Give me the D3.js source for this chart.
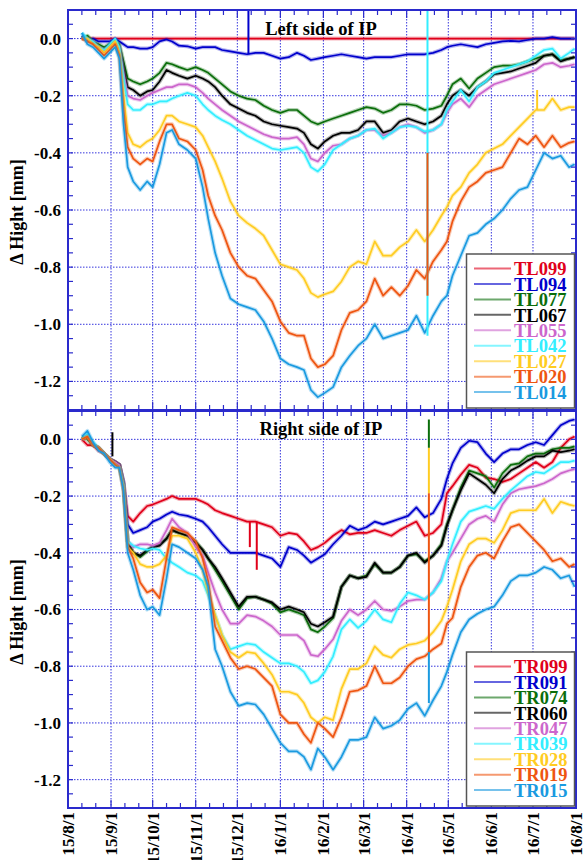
<!DOCTYPE html>
<html><head><meta charset="utf-8">
<script src="https://cdn.jsdelivr.net/npm/d3@7"></script>
<style>
body{margin:0;background:#fff}
text{font-family:"Liberation Serif","Times New Roman",serif;font-weight:bold}
</style>
</head><body>
<svg id="c" width="584" height="860"></svg>
<script>
// ---------------- DATA ----------------
const dates = [
"2015-08-11","2015-08-15","2015-08-19","2015-08-23","2015-08-27","2015-08-31","2015-09-04","2015-09-07","2015-09-10","2015-09-13",
"2015-09-17","2015-09-22","2015-09-27","2015-10-01","2015-10-06","2015-10-11","2015-10-15","2015-10-20","2015-10-26","2015-11-01",
"2015-11-06","2015-11-10","2015-11-15","2015-11-20","2015-11-26","2015-12-02","2015-12-08","2015-12-14","2015-12-20","2015-12-26",
"2016-01-01","2016-01-07","2016-01-13","2016-01-18","2016-01-23","2016-01-28","2016-02-02","2016-02-08","2016-02-14","2016-02-20",
"2016-02-26","2016-03-03","2016-03-09","2016-03-15","2016-03-21","2016-03-27","2016-04-02","2016-04-08","2016-04-14","2016-04-20",
"2016-04-26","2016-04-30","2016-05-04","2016-05-10","2016-05-16","2016-05-22","2016-05-28","2016-06-03","2016-06-09","2016-06-15",
"2016-06-21","2016-06-27","2016-07-03","2016-07-09","2016-07-15","2016-07-21","2016-07-27","2016-07-31"];

const leftNames  = ["TL099","TL094","TL077","TL067","TL055","TL042","TL027","TL020","TL014"];
const rightNames = ["TR099","TR091","TR074","TR060","TR047","TR039","TR028","TR019","TR015"];
const colors = ["#e0001a","#0000cc","#0b6e0b","#000000","#cc66cc","#33eeff","#ffcc22","#ee5511","#1a9ae0"];
const yTickValues = [0.0,-0.2,-0.4,-0.6,-0.8,-1.0,-1.2];

const TL099 = [0,0,0,0,0,0,0,0,0,0, 0,0,0,0,0,0,0,0,0,0, 0,0,0,0,0,0,0,0,0,0, 0,0,0,0,0,0,0,0,0,0, 0,0,0,0,0,0,0,0,0,0, 0,0,0,0,0,0,0,0,0,0, 0,0,0,0,0,0,0,0];
const TL094 = [0.01,-0.01,0.0,-0.01,-0.01,-0.01,0.0,-0.01,-0.02,-0.03,
 -0.03,-0.035,-0.035,-0.03,-0.01,-0.003,-0.01,-0.025,-0.027,-0.035,
 -0.03,-0.03,-0.03,-0.04,-0.045,-0.05,-0.055,-0.05,-0.05,-0.06,
 -0.07,-0.065,-0.05,-0.06,-0.075,-0.07,-0.065,-0.06,-0.055,-0.06,
 -0.065,-0.07,-0.065,-0.065,-0.065,-0.06,-0.055,-0.055,-0.055,-0.05,
 -0.04,-0.03,-0.025,-0.02,-0.025,-0.03,-0.02,-0.015,-0.01,-0.008,
 -0.01,-0.005,0.0,0.0,0.005,0.0,0.0,0.0];
const TL077 = [0.0,0.01,-0.01,-0.02,-0.03,-0.02,-0.01,-0.02,-0.08,-0.14,
 -0.15,-0.16,-0.15,-0.14,-0.12,-0.085,-0.09,-0.10,-0.11,-0.10,
 -0.11,-0.12,-0.14,-0.16,-0.185,-0.20,-0.21,-0.215,-0.235,-0.25,
 -0.26,-0.25,-0.25,-0.27,-0.29,-0.30,-0.29,-0.28,-0.27,-0.26,
 -0.25,-0.24,-0.245,-0.26,-0.25,-0.23,-0.23,-0.235,-0.25,-0.245,
 -0.235,-0.20,-0.16,-0.14,-0.175,-0.14,-0.12,-0.10,-0.095,-0.095,
 -0.09,-0.08,-0.07,-0.06,-0.055,-0.075,-0.07,-0.065];
const TL067 = [0.0,0.0,-0.01,-0.03,-0.04,-0.02,-0.01,-0.03,-0.10,-0.17,
 -0.18,-0.20,-0.185,-0.18,-0.15,-0.11,-0.12,-0.13,-0.14,-0.13,
 -0.14,-0.15,-0.17,-0.20,-0.23,-0.245,-0.26,-0.27,-0.29,-0.30,
 -0.305,-0.31,-0.315,-0.33,-0.37,-0.385,-0.36,-0.34,-0.33,-0.33,
 -0.32,-0.29,-0.29,-0.33,-0.32,-0.29,-0.28,-0.29,-0.30,-0.29,
 -0.27,-0.23,-0.20,-0.18,-0.20,-0.17,-0.15,-0.125,-0.12,-0.115,
 -0.105,-0.095,-0.085,-0.06,-0.055,-0.08,-0.07,-0.065];
const TL055 = [0.0,0.0,-0.01,-0.03,-0.04,-0.03,-0.01,-0.03,-0.12,-0.20,
 -0.21,-0.215,-0.20,-0.19,-0.18,-0.17,-0.17,-0.16,-0.16,-0.17,
 -0.19,-0.21,-0.23,-0.25,-0.27,-0.29,-0.305,-0.32,-0.335,-0.345,
 -0.35,-0.35,-0.345,-0.37,-0.42,-0.43,-0.40,-0.375,-0.37,-0.35,
 -0.34,-0.32,-0.32,-0.34,-0.33,-0.31,-0.30,-0.31,-0.33,-0.32,
 -0.30,-0.26,-0.23,-0.21,-0.24,-0.20,-0.18,-0.16,-0.15,-0.14,
 -0.13,-0.12,-0.11,-0.09,-0.085,-0.10,-0.095,-0.09];
const TL042 = [0.02,0.0,-0.01,-0.03,-0.04,-0.02,0.0,-0.03,-0.14,-0.23,
 -0.25,-0.25,-0.23,-0.23,-0.22,-0.22,-0.21,-0.20,-0.19,-0.20,
 -0.23,-0.25,-0.27,-0.285,-0.30,-0.32,-0.34,-0.355,-0.37,-0.385,
 -0.39,-0.385,-0.38,-0.40,-0.45,-0.465,-0.44,-0.39,-0.37,-0.35,
 -0.34,-0.32,-0.315,-0.35,-0.33,-0.31,-0.305,-0.31,-0.325,-0.32,
 -0.30,-0.25,-0.22,-0.18,-0.22,-0.17,-0.15,-0.12,-0.11,-0.10,
 -0.09,-0.08,-0.06,-0.04,-0.035,-0.07,-0.05,-0.035];
const TL027 = [0.0,0.0,-0.02,-0.03,-0.05,-0.03,-0.01,-0.05,-0.20,-0.33,
 -0.37,-0.38,-0.36,-0.35,-0.32,-0.27,-0.27,-0.29,-0.30,-0.31,
 -0.34,-0.38,-0.43,-0.49,-0.57,-0.62,-0.645,-0.665,-0.69,-0.74,
 -0.79,-0.80,-0.81,-0.84,-0.89,-0.905,-0.895,-0.885,-0.85,-0.80,
 -0.78,-0.79,-0.71,-0.76,-0.76,-0.73,-0.71,-0.67,-0.71,-0.67,
 -0.62,-0.59,-0.55,-0.52,-0.47,-0.44,-0.40,-0.385,-0.37,-0.34,
 -0.31,-0.28,-0.25,-0.25,-0.21,-0.25,-0.24,-0.24];
const TL020 = [0.0,-0.01,-0.02,-0.04,-0.06,-0.04,-0.02,-0.06,-0.25,-0.38,
 -0.42,-0.44,-0.42,-0.43,-0.36,-0.30,-0.30,-0.35,-0.36,-0.39,
 -0.46,-0.55,-0.62,-0.67,-0.75,-0.80,-0.83,-0.84,-0.88,-0.92,
 -0.99,-1.03,-1.04,-1.04,-1.12,-1.15,-1.14,-1.11,-1.02,-0.96,
 -0.95,-0.92,-0.84,-0.90,-0.87,-0.90,-0.865,-0.81,-0.84,-0.78,
 -0.74,-0.71,-0.64,-0.57,-0.52,-0.50,-0.47,-0.46,-0.45,-0.40,
 -0.35,-0.37,-0.34,-0.38,-0.34,-0.38,-0.365,-0.36];
const TL014 = [0.02,-0.02,-0.03,-0.05,-0.07,-0.05,-0.03,-0.07,-0.30,-0.45,
 -0.50,-0.53,-0.50,-0.52,-0.44,-0.33,-0.32,-0.37,-0.39,-0.42,
 -0.52,-0.63,-0.75,-0.83,-0.91,-0.93,-0.94,-0.95,-0.99,-1.05,
 -1.12,-1.14,-1.15,-1.16,-1.23,-1.255,-1.24,-1.22,-1.15,-1.11,
 -1.075,-1.05,-1.0,-1.05,-1.04,-1.03,-1.02,-0.97,-1.03,-0.97,
 -0.92,-0.90,-0.83,-0.76,-0.69,-0.68,-0.65,-0.63,-0.60,-0.56,
 -0.53,-0.52,-0.46,-0.40,-0.42,-0.41,-0.45,-0.44];

const TR099 = [0.0,-0.02,-0.02,-0.04,-0.05,-0.07,-0.08,-0.09,-0.15,-0.27,
 -0.29,-0.26,-0.235,-0.23,-0.22,-0.21,-0.20,-0.21,-0.21,-0.21,
 -0.22,-0.23,-0.25,-0.26,-0.27,-0.28,-0.29,-0.29,-0.30,-0.31,
 -0.34,-0.33,-0.335,-0.36,-0.39,-0.38,-0.365,-0.34,-0.32,-0.335,
 -0.33,-0.33,-0.32,-0.33,-0.34,-0.32,-0.305,-0.29,-0.34,-0.33,
 -0.30,-0.19,-0.165,-0.125,-0.09,-0.10,-0.135,-0.14,-0.15,-0.14,
 -0.12,-0.10,-0.08,-0.10,-0.08,-0.03,0.0,0.01];
const TR091 = [0.0,0.01,-0.02,-0.03,-0.05,-0.07,-0.08,-0.09,-0.15,-0.30,
 -0.33,-0.32,-0.31,-0.29,-0.28,-0.265,-0.255,-0.265,-0.27,-0.28,
 -0.29,-0.31,-0.34,-0.37,-0.40,-0.40,-0.40,-0.40,-0.41,-0.42,
 -0.45,-0.38,-0.39,-0.41,-0.435,-0.42,-0.405,-0.37,-0.34,-0.305,
 -0.32,-0.31,-0.29,-0.30,-0.29,-0.28,-0.27,-0.24,-0.275,-0.26,
 -0.21,-0.14,-0.085,-0.03,-0.005,-0.01,-0.05,-0.08,-0.05,-0.035,
 -0.035,-0.02,-0.01,-0.02,0.015,0.05,0.065,0.07];
const TR074 = [0.01,0.0,-0.02,-0.03,-0.05,-0.07,-0.08,-0.09,-0.16,-0.36,
 -0.40,-0.415,-0.395,-0.38,-0.37,-0.35,-0.32,-0.33,-0.34,-0.36,
 -0.39,-0.42,-0.46,-0.50,-0.55,-0.60,-0.56,-0.555,-0.565,-0.58,
 -0.61,-0.60,-0.61,-0.62,-0.67,-0.68,-0.66,-0.63,-0.52,-0.48,
 -0.49,-0.48,-0.44,-0.47,-0.47,-0.45,-0.41,-0.405,-0.43,-0.41,
 -0.37,-0.30,-0.25,-0.17,-0.11,-0.12,-0.13,-0.17,-0.12,-0.09,
 -0.085,-0.06,-0.05,-0.05,-0.035,-0.03,-0.03,-0.025];
const TR060 = [0.0,0.01,-0.02,-0.03,-0.05,-0.07,-0.08,-0.09,-0.16,-0.36,
 -0.40,-0.41,-0.39,-0.38,-0.375,-0.35,-0.32,-0.33,-0.34,-0.365,
 -0.39,-0.42,-0.45,-0.49,-0.54,-0.59,-0.555,-0.555,-0.565,-0.575,
 -0.60,-0.59,-0.60,-0.61,-0.65,-0.66,-0.645,-0.625,-0.52,-0.48,
 -0.49,-0.485,-0.435,-0.47,-0.47,-0.45,-0.41,-0.40,-0.435,-0.41,
 -0.375,-0.305,-0.25,-0.18,-0.12,-0.14,-0.16,-0.19,-0.14,-0.11,
 -0.095,-0.075,-0.06,-0.06,-0.04,-0.045,-0.04,-0.035];
const TR047 = [0.0,0.01,-0.02,-0.03,-0.05,-0.07,-0.08,-0.09,-0.16,-0.36,
 -0.38,-0.37,-0.37,-0.375,-0.365,-0.32,-0.28,-0.31,-0.33,-0.38,
 -0.41,-0.47,-0.54,-0.60,-0.65,-0.65,-0.62,-0.625,-0.64,-0.66,
 -0.69,-0.69,-0.69,-0.71,-0.76,-0.765,-0.74,-0.705,-0.64,-0.60,
 -0.62,-0.60,-0.57,-0.60,-0.605,-0.59,-0.57,-0.565,-0.565,-0.54,
 -0.49,-0.43,-0.40,-0.35,-0.30,-0.28,-0.27,-0.29,-0.23,-0.19,
 -0.176,-0.17,-0.165,-0.155,-0.14,-0.12,-0.11,-0.105];
const TR039 = [0.0,0.02,-0.01,-0.03,-0.05,-0.07,-0.09,-0.10,-0.16,-0.36,
 -0.375,-0.385,-0.39,-0.385,-0.39,-0.42,-0.435,-0.45,-0.47,-0.48,
 -0.50,-0.55,-0.62,-0.69,-0.74,-0.73,-0.72,-0.725,-0.75,-0.77,
 -0.79,-0.79,-0.80,-0.82,-0.86,-0.85,-0.82,-0.765,-0.67,-0.635,
 -0.665,-0.64,-0.60,-0.635,-0.645,-0.58,-0.54,-0.55,-0.565,-0.54,
 -0.50,-0.43,-0.37,-0.29,-0.255,-0.245,-0.235,-0.245,-0.21,-0.18,
 -0.155,-0.13,-0.115,-0.12,-0.10,-0.08,-0.08,-0.075];
const TR028 = [0.0,0.01,-0.02,-0.03,-0.05,-0.07,-0.09,-0.10,-0.17,-0.38,
 -0.40,-0.44,-0.45,-0.45,-0.44,-0.41,-0.34,-0.34,-0.35,-0.40,
 -0.46,-0.54,-0.62,-0.69,-0.75,-0.77,-0.75,-0.755,-0.79,-0.83,
 -0.89,-0.89,-0.90,-0.93,-0.98,-1.0,-0.98,-0.99,-0.88,-0.81,
 -0.81,-0.79,-0.73,-0.76,-0.77,-0.74,-0.725,-0.72,-0.71,-0.68,
 -0.64,-0.59,-0.53,-0.43,-0.37,-0.35,-0.35,-0.365,-0.32,-0.26,
 -0.25,-0.25,-0.25,-0.21,-0.26,-0.22,-0.23,-0.235];
const TR019 = [0.0,0.01,-0.02,-0.03,-0.05,-0.07,-0.09,-0.10,-0.18,-0.38,
 -0.42,-0.505,-0.54,-0.53,-0.56,-0.42,-0.31,-0.32,-0.33,-0.36,
 -0.42,-0.50,-0.66,-0.71,-0.77,-0.81,-0.80,-0.81,-0.84,-0.87,
 -0.97,-1.0,-1.0,-1.04,-1.07,-1.0,-1.02,-1.05,-0.98,-0.89,
 -0.885,-0.87,-0.80,-0.86,-0.86,-0.84,-0.80,-0.775,-0.765,-0.74,
 -0.72,-0.65,-0.63,-0.52,-0.45,-0.41,-0.40,-0.42,-0.36,-0.31,
 -0.30,-0.33,-0.36,-0.39,-0.43,-0.42,-0.45,-0.44];
const TR015 = [0.01,0.03,-0.01,-0.04,-0.05,-0.08,-0.10,-0.10,-0.18,-0.40,
 -0.46,-0.55,-0.60,-0.59,-0.62,-0.49,-0.37,-0.38,-0.40,-0.42,
 -0.46,-0.52,-0.74,-0.80,-0.89,-0.94,-0.93,-0.935,-0.97,-1.02,
 -1.07,-1.10,-1.10,-1.12,-1.165,-1.09,-1.12,-1.165,-1.12,-1.06,
 -1.06,-1.05,-0.98,-1.02,-1.01,-0.99,-0.95,-0.93,-0.975,-0.92,
 -0.87,-0.82,-0.76,-0.68,-0.635,-0.615,-0.60,-0.59,-0.55,-0.50,
 -0.48,-0.48,-0.47,-0.45,-0.46,-0.49,-0.48,-0.52];

// single-sample spikes: [series index, date, from value, to value]
const leftSpikes = [
 [1,"2015-12-09",-0.055,0.1],
 [5,"2016-04-16",0.1,-1.04],
 [7,"2016-04-16",-0.40,-0.90],
 [6,"2016-07-04",-0.25,-0.18]];
const rightSpikes = [
 [3,"2015-09-02",0.025,-0.06],
 [0,"2015-12-10",-0.29,-0.38],
 [0,"2015-12-15",-0.29,-0.46],
 [2,"2016-04-17",0.07,-0.03],
 [6,"2016-04-17",-0.03,-0.19],
 [7,"2016-04-17",-0.19,-0.75],
 [8,"2016-04-17",-0.75,-0.93]];

const leftSeries  = [TL099,TL094,TL077,TL067,TL055,TL042,TL027,TL020,TL014];
const rightSeries = [TR099,TR091,TR074,TR060,TR047,TR039,TR028,TR019,TR015];

// ---------------- DRAW ----------------
const parse = d3.utcParse("%Y-%m-%d");
const D = dates.map(parse);
const svg = d3.select("#c");
const axisColor = "#2a2acc";
const gridColor = "#3535dd";
const x = d3.scaleUtc().domain([parse("2015-08-01"), parse("2016-08-01")]).range([68, 576]);
const X0 = 68, X1 = 576;

const panels = [
  {names:leftNames, series:leftSeries, spikes:leftSpikes, top:10, bottom:410, title:"Left side of IP", titleY:35, legTop:254, labelY:212},
  {names:rightNames, series:rightSeries, spikes:rightSpikes, top:411, bottom:808, title:"Right side of IP", titleY:435, legTop:652, labelY:612}
];

const months = d3.utcMonth.range(parse("2015-08-01"), parse("2016-08-02"));
const minorDays = d3.utcDay.range(parse("2015-08-01"), parse("2016-08-01")).filter(d => d.getUTCDate()===11 || d.getUTCDate()===21);

panels.forEach((p, pi) => {
  const y = d3.scaleLinear().domain([-1.3, 0.1]).range([p.bottom, p.top]);
  const g = svg.append("g");
  const cid = "clip"+pi;
  svg.append("clipPath").attr("id", cid).append("rect")
    .attr("x", X0).attr("y", p.top).attr("width", X1-X0).attr("height", p.bottom-p.top);

  // grid
  g.selectAll(".vg").data(months.slice(1,-1)).join("line")
    .attr("x1", d=>x(d)).attr("x2", d=>x(d)).attr("y1", p.top).attr("y2", p.bottom)
    .attr("stroke", gridColor).attr("stroke-width", 1).attr("stroke-dasharray","1.5,1.5");
  g.selectAll(".hg").data(yTickValues).join("line")
    .attr("x1", X0).attr("x2", X1).attr("y1", d=>y(d)).attr("y2", d=>y(d))
    .attr("stroke", gridColor).attr("stroke-width", 1).attr("stroke-dasharray","1.5,1.5");

  // series
  const line = d3.line().x((d,i)=>x(D[i])).y(d=>y(d));
  const lg = g.append("g").attr("clip-path", `url(#${cid})`);
  p.series.forEach((s, si) => {
    lg.append("path").attr("d", line(s)).attr("fill","none")
      .attr("stroke", colors[si]).attr("stroke-width", 4).attr("stroke-opacity", 0.3)
      .attr("stroke-linejoin","round");
    lg.append("path").attr("d", line(s)).attr("fill","none")
      .attr("stroke", colors[si]).attr("stroke-width", 1.7)
      .attr("stroke-linejoin","round");
  });
  lg.selectAll(".spk").data(p.spikes).join("line")
    .attr("x1", d=>x(parse(d[1]))).attr("x2", d=>x(parse(d[1])))
    .attr("y1", d=>y(d[2])).attr("y2", d=>y(d[3]))
    .attr("stroke", d=>colors[d[0]]).attr("stroke-width", 2);

  // ticks
  const tk = g.append("g").attr("stroke", axisColor).attr("stroke-width", 1.2);
  tk.selectAll(".xb").data(minorDays).join("line")
    .attr("x1", d=>x(d)).attr("x2", d=>x(d)).attr("y1", p.bottom).attr("y2", p.bottom-5);
  tk.selectAll(".xt").data(minorDays).join("line")
    .attr("x1", d=>x(d)).attr("x2", d=>x(d)).attr("y1", p.top).attr("y2", p.top+5);
  tk.selectAll(".xbm").data(months).join("line")
    .attr("x1", d=>x(d)).attr("x2", d=>x(d)).attr("y1", p.bottom).attr("y2", p.bottom-8);
  tk.selectAll(".xtm").data(months).join("line")
    .attr("x1", d=>x(d)).attr("x2", d=>x(d)).attr("y1", p.top).attr("y2", p.top+8);
  const yMinor = d3.range(-26, 2).map(k => k*0.05);
  tk.selectAll(".yl").data(yMinor).join("line")
    .attr("x1", X0).attr("x2", X0+5).attr("y1", d=>y(d)).attr("y2", d=>y(d));
  tk.selectAll(".yr").data(yMinor).join("line")
    .attr("x1", X1).attr("x2", X1-5).attr("y1", d=>y(d)).attr("y2", d=>y(d));

  // frame
  g.append("rect").attr("x", X0).attr("y", p.top).attr("width", X1-X0).attr("height", p.bottom-p.top)
    .attr("fill","none").attr("stroke", axisColor).attr("stroke-width", 2);

  // y tick labels
  g.selectAll(".ylab").data(yTickValues).join("text")
    .attr("x", 61).attr("y", d=>y(d)).attr("dy","0.35em")
    .attr("text-anchor","end").attr("font-size", 17).attr("fill","#000")
    .text(d => d.toFixed(1));

  // axis title
  g.append("text").attr("transform", `translate(23,${p.labelY}) rotate(-90)`)
    .attr("text-anchor","middle").attr("font-size", 18).attr("fill","#000")
    .text("Δ Hight [mm]");

  // panel title
  g.append("text").attr("x", 321).attr("y", p.titleY).attr("text-anchor","middle")
    .attr("font-size", 18.5).attr("fill","#000").text(p.title);

  // legend
  const lgd = g.append("g");
  lgd.append("rect").attr("x", 466.5).attr("y", p.legTop).attr("width", 108).attr("height", 154)
    .attr("fill","#fff").attr("stroke","#555").attr("stroke-width", 1.5);
  p.names.forEach((n, i) => {
    const cy = p.legTop + 14.5 + i*15.45;
    lgd.append("line").attr("x1", 474).attr("x2", 511).attr("y1", cy).attr("y2", cy)
      .attr("stroke", colors[i]).attr("stroke-width", 2).attr("stroke-opacity", 0.6);
    lgd.append("text").attr("x", 514).attr("y", cy).attr("dy","0.36em")
      .attr("font-size", 18.5).attr("fill", colors[i]).text(n);
  });
});

// x tick labels (bottom only)
const fmt = d3.utcFormat("%y/%-m/%-d");
svg.append("g").selectAll("text").data(months).join("text")
  .attr("transform", d => `translate(${x(d)},812) rotate(-90)`)
  .attr("dy","0.35em").attr("text-anchor","end").attr("font-size", 17).attr("fill","#000")
  .text(d => fmt(d));
</script>
</body></html>
